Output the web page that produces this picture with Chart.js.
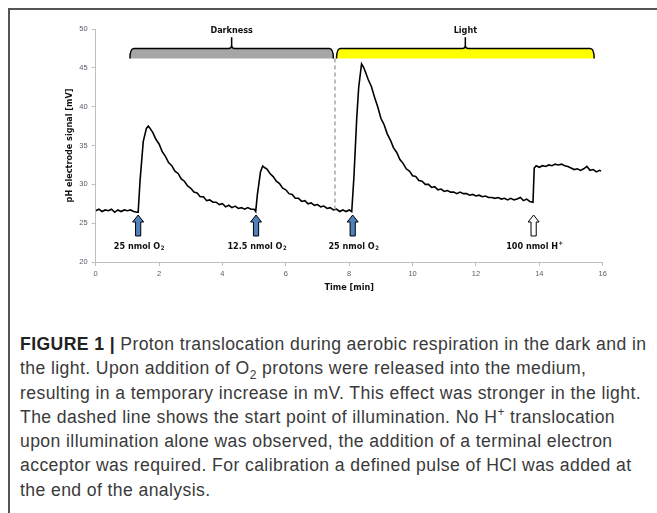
<!DOCTYPE html>
<html>
<head>
<meta charset="utf-8">
<script src="https://cdn.jsdelivr.net/npm/chart.js@4/dist/chart.umd.min.js"></script>
<style>
  html, body { margin: 0; padding: 0; background: #fff; overflow: hidden; width: 657px; height: 513px; }
  #frame { position: absolute; left: 8px; top: 8px; width: 800px; height: 800px; border-left: 2px solid #555; border-top: 2px solid #555; }
  #wrap { position: absolute; left: 0; top: 0; width: 657px; height: 300px; }
  #caption { position: absolute; left: 20px; top: 332px; width: 640px; font-family: "Liberation Sans", Arial, sans-serif; font-size: 17.6px; letter-spacing: 0.4px; line-height: 24.3px; color: #3a3a3a; white-space: nowrap; }
  #caption b { color: #222; font-weight: 700; }
  #caption sub, #caption sup { font-size: 12px; line-height: 0; }
</style>
</head>
<body>
<div id="frame"></div>
<div id="wrap"><canvas id="c" width="657" height="300"></canvas></div>
<div id="caption"><b>FIGURE 1 |</b> Proton translocation during aerobic respiration in the dark and in<br>the light. Upon addition of O<sub>2</sub> protons were released into the medium,<br>resulting in a temporary increase in mV. This effect was stronger in the light.<br>The dashed line shows the start point of illumination. No H<sup>+</sup> translocation<br>upon illumination alone was observed, the addition of a terminal electron<br>acceptor was required. For calibration a defined pulse of HCl was added at<br>the end of the analysis.</div>
<script>
// ---- data ----
const timeMin = [
  0.0,0.1,0.2,0.3,0.4,0.5,0.6,0.7,0.8,0.9,1.0,1.1,1.2,1.3,1.34,
  1.4,1.5,1.6,1.66,1.7,1.8,1.9,2.0,2.1,2.2,2.3,2.4,2.5,2.6,2.7,2.8,2.9,3.0,
  3.1,3.2,3.3,3.4,3.5,3.6,3.7,3.8,3.9,4.0,4.1,4.2,4.3,4.4,4.5,4.6,4.7,4.8,4.9,5.0,5.05,
  5.1,5.2,5.27,5.35,5.4,5.5,5.6,5.7,5.8,5.9,6.0,6.1,6.2,6.3,6.4,6.5,6.6,6.7,6.8,6.9,7.0,
  7.1,7.2,7.3,7.4,7.5,7.6,7.7,7.8,7.9,8.0,8.08,
  8.15,8.24,8.3,8.39,8.45,8.5,8.6,8.7,8.8,8.9,9.0,9.1,9.2,9.3,9.4,9.5,9.6,9.7,9.8,9.9,10.0,
  10.1,10.2,10.3,10.4,10.5,10.6,10.7,10.8,10.9,11.0,11.1,11.2,11.3,11.4,11.5,11.6,11.7,11.8,11.9,12.0,
  12.1,12.2,12.3,12.4,12.5,12.6,12.7,12.8,12.9,13.0,13.1,13.2,13.3,13.4,13.5,13.6,13.7,13.8,13.84,
  13.9,14.0,14.1,14.2,14.3,14.4,14.5,14.6,14.7,14.8,14.9,15.0,15.1,15.2,15.3,15.4,15.5,15.6,15.7,15.8,15.9,15.95
];
const signalMv = [
  26.6,26.8,26.5,26.7,26.6,26.8,26.4,26.7,26.5,26.7,26.6,26.7,26.5,26.4,26.4,
  30.5,35.5,37.2,37.5,37.3,36.7,35.8,35.2,34.2,33.6,32.8,32.4,31.7,31.4,30.7,30.4,29.8,29.5,
  29.0,28.9,28.4,28.4,27.9,28.0,27.7,27.7,27.4,27.5,27.1,27.3,27.0,27.2,26.9,27.0,26.8,27.0,26.8,26.8,26.5,
  28.6,31.6,32.35,32.1,32.0,31.4,31.0,30.4,30.1,29.5,29.3,28.8,28.7,28.2,28.2,27.8,27.9,27.5,27.6,27.3,27.4,
  27.1,27.2,26.9,27.0,26.7,26.8,26.5,26.7,26.5,26.7,26.5,
  31.0,38.7,42.5,45.5,45.1,44.6,43.5,42.6,41.2,40.0,38.5,37.7,36.5,35.7,34.7,34.1,33.2,32.7,32.0,31.7,31.1,
  31.0,30.5,30.4,30.0,30.0,29.6,29.7,29.3,29.4,29.1,29.2,29.0,29.0,28.8,29.0,28.8,28.8,28.6,28.7,28.5,
  28.6,28.4,28.5,28.3,28.3,28.2,28.3,28.1,28.2,28.0,28.2,28.0,28.1,28.3,27.9,28.1,27.8,27.7,32.1,
  32.4,32.2,32.4,32.3,32.5,32.4,32.6,32.5,32.6,32.4,32.3,32.1,31.9,32.0,31.8,32.0,32.3,31.8,31.9,31.6,31.8,31.7
];
const xTicks = [0, 2, 4, 6, 8, 10, 12, 14, 16];
const yTicks = [20, 25, 30, 35, 40, 45, 50];
const phaseNames = ['Darkness', 'Light'];
const phaseStart = [1.08, 7.6];
const phaseEnd = [7.5, 15.73];
const phaseColors = ['#a6a6a6', '#ffff00'];
const illuminationStart = 7.55;
const additionTimes = [1.34, 5.06, 8.11, 13.82];
const additionLabels = [['25 nmol O', '2'], ['12.5 nmol O', '2'], ['25 nmol O', '2'], ['100 nmol H', '+']];
const additionFill = ['#4f81bd', '#4f81bd', '#4f81bd', '#ffffff'];

const FONT = '"Liberation Sans Narrow", "DejaVu Sans Condensed", "Liberation Sans", sans-serif';
const TICKFONT = '"Liberation Sans", Arial, sans-serif';
const tickColor = '#5d586b';
const axisColor = '#bfbfbf';

const annot = {
  id: 'annot',
  afterDatasetsDraw(chart) {
    const { ctx, scales: { x, y } } = chart;
    ctx.save();
    // dashed illumination line
    const dx = x.getPixelForValue(illuminationStart);
    ctx.strokeStyle = '#a6a6a6';
    ctx.lineWidth = 1.5;
    ctx.setLineDash([4, 3]);
    ctx.beginPath();
    ctx.moveTo(dx, y.getPixelForValue(46.2));
    ctx.lineTo(dx, y.getPixelForValue(26.5));
    ctx.stroke();
    ctx.setLineDash([]);

    // phase brackets
    const yt = y.getPixelForValue(47.5), yb = y.getPixelForValue(46.2), ytip = y.getPixelForValue(48.95);
    phaseNames.forEach((name, i) => {
      const x0 = x.getPixelForValue(phaseStart[i]);
      const x1 = x.getPixelForValue(phaseEnd[i]);
      const xc = (x0 + x1) / 2;
      ctx.fillStyle = phaseColors[i];
      ctx.beginPath();
      ctx.moveTo(x0, yb);
      ctx.quadraticCurveTo(x0, yt, x0 + 4, yt);
      ctx.lineTo(x1 - 4, yt);
      ctx.quadraticCurveTo(x1, yt, x1, yb);
      ctx.closePath();
      ctx.fill();
      ctx.strokeStyle = '#000';
      ctx.lineWidth = 1.5;
      ctx.beginPath();
      ctx.moveTo(x0, yb);
      ctx.quadraticCurveTo(x0, yt, x0 + 4, yt);
      ctx.lineTo(xc - 3, yt);
      ctx.quadraticCurveTo(xc, yt, xc, yt - 3);
      ctx.lineTo(xc, ytip);
      ctx.moveTo(xc, yt - 3);
      ctx.quadraticCurveTo(xc, yt, xc + 3, yt);
      ctx.lineTo(x1 - 4, yt);
      ctx.quadraticCurveTo(x1, yt, x1, yb);
      ctx.stroke();
      ctx.fillStyle = '#111';
      ctx.font = 'bold 9px ' + FONT;
      ctx.textAlign = 'center';
      ctx.textBaseline = 'middle';
      ctx.fillText(name, xc, y.getPixelForValue(49.85));
    });

    // addition arrows
    const tipY = y.getPixelForValue(26.05), baseY = y.getPixelForValue(23.35);
    additionTimes.forEach((t, i) => {
      const ax = x.getPixelForValue(t);
      const hh = 7, hw = 5.5, sw = 2.6;
      ctx.beginPath();
      ctx.moveTo(ax, tipY);
      ctx.lineTo(ax + hw, tipY + hh);
      ctx.lineTo(ax + sw, tipY + hh);
      ctx.lineTo(ax + sw, baseY);
      ctx.lineTo(ax - sw, baseY);
      ctx.lineTo(ax - sw, tipY + hh);
      ctx.lineTo(ax - hw, tipY + hh);
      ctx.closePath();
      ctx.fillStyle = additionFill[i];
      ctx.fill();
      ctx.strokeStyle = '#000';
      ctx.lineWidth = 1;
      ctx.stroke();
      // label with sub/superscript
      const [main, script] = additionLabels[i];
      const isSup = script === '+';
      ctx.fillStyle = '#111';
      ctx.textBaseline = 'alphabetic';
      ctx.textAlign = 'left';
      ctx.font = 'bold 9px ' + FONT;
      const w1 = ctx.measureText(main).width;
      ctx.font = 'bold 6px ' + FONT;
      const w2 = ctx.measureText(script).width;
      const total = w1 + w2 + 0.5;
      const lx = ax + 1 - total / 2;
      const ly = y.getPixelForValue(22.1) + 3.2;
      ctx.font = 'bold 9px ' + FONT;
      ctx.fillText(main, lx, ly);
      ctx.font = 'bold 6px ' + FONT;
      ctx.fillText(script, lx + w1 + 0.5, isSup ? ly - 3.5 : ly + 1.5);
    });
    ctx.restore();
  }
};

new Chart(document.getElementById('c'), {
  type: 'line',
  data: {
    datasets: [{
      data: timeMin.map((t, i) => ({ x: t, y: signalMv[i] })),
      borderColor: '#000',
      borderWidth: 1.6,
      pointRadius: 0,
      tension: 0,
      fill: false
    }]
  },
  options: {
    responsive: false,
    animation: false,
    layout: { padding: { left: 60, right: 54.3, top: 29, bottom: 0 } },
    plugins: { legend: { display: false }, tooltip: { enabled: false } },
    scales: {
      x: {
        type: 'linear', min: xTicks[0], max: xTicks[xTicks.length - 1],
        afterBuildTicks(s) { s.ticks = xTicks.map(v => ({ value: v })); },
        ticks: { font: { family: TICKFONT, size: 7.5 }, color: tickColor, padding: 3, maxRotation: 0 },
        grid: { drawOnChartArea: false, tickLength: 4, color: axisColor },
        border: { color: axisColor, width: 1 },
        title: { display: true, text: 'Time [min]', color: '#111', font: { family: FONT, size: 9, weight: 'bold' }, padding: { top: 0, bottom: 7 } },
        afterFit(s) { s.height = 38; }
      },
      y: {
        min: yTicks[0], max: yTicks[yTicks.length - 1],
        afterBuildTicks(s) { s.ticks = yTicks.map(v => ({ value: v })); },
        ticks: { font: { family: TICKFONT, size: 7.5 }, color: tickColor, padding: 4 },
        grid: { drawOnChartArea: false, tickLength: 4, color: axisColor },
        border: { color: axisColor, width: 1 },
        title: { display: true, text: 'pH electrode signal [mV]', color: '#111', font: { family: FONT, size: 9, weight: 'bold' }, padding: { top: 4, bottom: 0 } },
        afterFit(s) { s.width = 35.7; }
      }
    }
  },
  plugins: [annot]
});
</script>
</body>
</html>
